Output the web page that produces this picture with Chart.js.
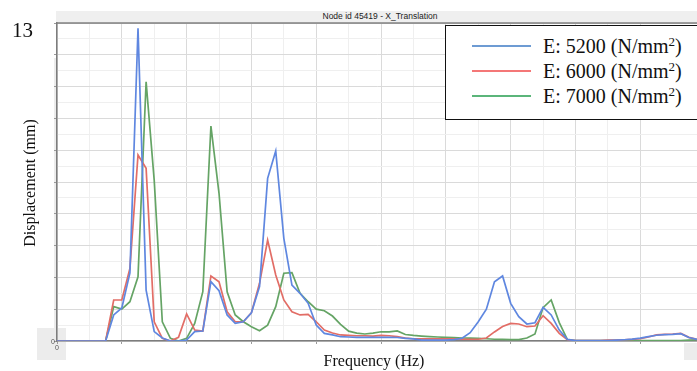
<!DOCTYPE html>
<html>
<head>
<meta charset="utf-8">
<script src="https://cdn.jsdelivr.net/npm/chart.js@4/dist/chart.umd.min.js"></script>
<style>
    body { margin: 0; background: #fff; overflow: hidden; }
    #wrap { position: relative; width: 697px; height: 371px; overflow: hidden; }
    #wrap canvas { position: absolute; left: 0; top: 0; z-index: 1; }
    .abs { position: absolute; white-space: nowrap; }
    .serif { font-family: "Liberation Serif", "Times New Roman", serif; color: #111; }
    .back { z-index: 0; background: #ececec; }
    .front { z-index: 2; }
    .tiny { font-family: "Liberation Sans", Arial, sans-serif; font-size: 7px; color: #555; line-height: 7px; }
    .leg-row { font-size: 20px; line-height: 20px; }
    .leg-row sup { font-size: 13px; vertical-align: 7px; line-height: 0; }
    .leg-line { height: 2px; width: 59px; }
</style>
</head>
<body>
<div id="wrap">
    <!-- grey label boxes behind the plot -->
    <div class="abs back" style="left:37px; top:328px; width:29px; height:32px;"></div>
    <div class="abs back" style="left:684px; top:343px; width:20px; height:17px;"></div>
    <div class="abs back" style="left:54px; top:58px; width:3px; height:270px;"></div>

    <canvas id="chart" width="697" height="371"></canvas>

    <div class="abs front" style="left:56px; top:11px; width:648px; height:11px; background:#efefef; text-align:center; font-family:'Liberation Sans', Arial, sans-serif; font-size:8.5px; line-height:11px; color:#222;">Node id 45419 - X_Translation</div>

    <div class="abs front serif" style="left:12px; top:20px; font-size:21px; line-height:21px;">13</div>
    <div class="abs front serif" style="left:30px; top:183px; font-size:16px; line-height:16px; transform: translate(-50%, -50%) rotate(-90deg);">Displacement (mm)</div>
    <div class="abs front serif" style="left:374px; top:353px; font-size:16px; line-height:16px; transform: translateX(-50%);">Frequency (Hz)</div>

    <div class="abs front tiny" style="left:51px; top:338px;">0</div>
    <div class="abs front tiny" style="left:55px; top:344px;">0</div>

    <div class="abs front" style="left:445px; top:25px; width:260px; height:93px; border:1px solid #111; background:#fff;"></div>
    <div id="legend"></div>
</div>

<script>
// sampled frequency points (plot units) and displacement for each modulus
const freq = [0, 1.5, 1.75, 2, 2.25, 2.5, 2.75, 3, 3.25, 3.5, 3.75, 4, 4.25, 4.5, 4.75, 5,
    5.25, 5.5, 5.75, 6, 6.25, 6.5, 6.75, 7, 7.25, 7.5, 7.75, 8, 8.25, 8.5, 8.75, 9,
    9.25, 9.5, 9.75, 10, 10.25, 10.5, 10.75, 11, 11.25, 11.5, 11.75, 12, 12.25, 12.5, 12.75, 13,
    13.25, 13.5, 13.75, 14, 14.25, 14.5, 14.75, 15, 15.25, 15.5, 15.75, 16, 16.25, 16.5, 16.75, 17,
    17.25, 17.5, 17.75, 18, 18.25, 18.5, 18.75, 19, 19.25, 19.5, 19.75];

const disp5200 = [0, 0, 1.64, 2.08, 4.28, 19.67, 3.2, 0.59, 0.19, 0, 0, 0.06, 0.59, 0.63, 3.73, 3.16,
    1.64, 1.11, 1.21, 1.78, 3.42, 10.23, 11.95, 6.46, 3.52, 3.0, 2.37, 1.0, 0.48, 0.38, 0.27, 0.25,
    0.23, 0.23, 0.23, 0.23, 0.23, 0.22, 0.17, 0.13, 0.06, 0.06, 0.06, 0.06, 0.09, 0.17, 0.52, 1.21,
    2.0, 3.73, 4.09, 2.37, 1.53, 1.07, 1.15, 2.12, 1.64, 0.69, 0.1, 0.02, 0.02, 0.02, 0.02, 0.02,
    0.05, 0.08, 0.12, 0.18, 0.27, 0.36, 0.4, 0.42, 0.46, 0.22, 0.1];

const disp6000 = [0, 0, 2.58, 2.58, 4.57, 11.7, 10.86, 1.21, 0.17, 0, 0.23, 1.7, 0.69, 0.63, 4.09, 3.73,
    1.84, 1.21, 1.21, 1.78, 3.63, 6.35, 4.15, 2.58, 1.84, 1.64, 1.68, 1.21, 0.69, 0.5, 0.38, 0.36,
    0.33, 0.33, 0.31, 0.35, 0.33, 0.28, 0.19, 0.14, 0.13, 0.13, 0.13, 0.13, 0.13, 0.11, 0.11, 0.11,
    0.19, 0.57, 0.91, 1.11, 1.07, 0.9, 0.94, 1.59, 1.11, 0.48, 0.08, 0.02, 0.02, 0.02, 0.03, 0.05,
    0.06, 0.08, 0.1, 0.15, 0.25, 0.38, 0.42, 0.44, 0.48, 0.23, 0.1];

const disp7000 = [0, 0, 2.16, 2.01, 2.47, 4.04, 16.3, 10.1, 1.21, 0.17, 0, 0.17, 1.11, 3.1, 13.52, 9.29,
    3.1, 1.64, 1.21, 0.9, 0.65, 1.0, 2.16, 4.26, 4.3, 3.0, 2.47, 2.0, 1.9, 1.57, 1.05, 0.62,
    0.5, 0.44, 0.5, 0.58, 0.58, 0.63, 0.41, 0.35, 0.31, 0.28, 0.25, 0.23, 0.21, 0.19, 0.18, 0.16,
    0.14, 0.11, 0.1, 0.09, 0.09, 0.19, 0.44, 2.1, 2.58, 1.16, 0.09, 0.02, 0.02, 0.02, 0.02, 0.02,
    0.02, 0.02, 0.02, 0.02, 0.02, 0.02, 0.02, 0.02, 0.03, 0.05, 0.08];

const seriesNames = ['E: 5200 (N/mm<sup>2</sup>)', 'E: 6000 (N/mm<sup>2</sup>)', 'E: 7000 (N/mm<sup>2</sup>)'];
const lineColors = ['#5f87e0', '#e26d66', '#65a465'];
const legendColors = ['#6d9bd3', '#f47777', '#5bb57a'];

const xMax = 19.75;
const yMax = 20;

function toPoints(values) {
    const pts = [];
    for (let i = 0; i < freq.length; i++) {
        pts.push({ x: freq[i], y: values[i] });
    }
    return pts;
}

// legend built by hand, the boxed one
let legendHtml = '';
for (let i = 0; i < seriesNames.length; i++) {
    const base = 53 + i * 25;
    legendHtml += `<div class="abs front leg-line" style="left:472px; top:${base - 8}px; background:${legendColors[i]};"></div>`;
    legendHtml += `<div class="abs front serif leg-row" style="left:543px; top:${base - 17}px;">${seriesNames[i]}</div>`;
}
document.getElementById('legend').innerHTML = legendHtml;

// top edge of the plot frame
const topFrame = {
    id: 'topFrame',
    afterDraw(chart) {
        const { ctx, chartArea } = chart;
        ctx.save();
        ctx.strokeStyle = '#7d7d7d';
        ctx.lineWidth = 1.5;
        ctx.beginPath();
        ctx.moveTo(chartArea.left, chartArea.top);
        ctx.lineTo(chartArea.right, chartArea.top);
        ctx.stroke();
        ctx.restore();
    }
};

const evenGrid = (ctx) => (ctx.tick && ctx.tick.value % 2 === 0) ? '#dadada' : '#efefef';
const evenTick = (ctx) => (ctx.tick && ctx.tick.value % 2 === 0) ? '#9a9a9a' : 'rgba(0,0,0,0)';

const data = [disp5200, disp6000, disp7000];
const chart = new Chart(document.getElementById('chart').getContext('2d'), {
    type: 'line',
    data: {
        datasets: data.map((d, i) => ({
            data: toPoints(d),
            borderColor: lineColors[i],
            backgroundColor: lineColors[i],
            borderWidth: 1.7,
            pointRadius: 0,
            tension: 0,
            fill: false
        }))
    },
    options: {
        responsive: false,
        animation: false,
        layout: {
            padding: { left: 54, top: 23, right: 0, bottom: 27 }
        },
        plugins: {
            legend: { display: false },
            tooltip: { enabled: false }
        },
        scales: {
            x: {
                type: 'linear',
                min: 0,
                max: xMax,
                afterBuildTicks: (axis) => {
                    axis.ticks = axis.ticks.filter(t => Number.isInteger(t.value));
                },
                ticks: { display: false, stepSize: 1 },
                grid: {
                    color: evenGrid,
                    tickColor: evenTick,
                    drawTicks: true,
                    tickLength: 3
                },
                border: { color: '#7d7d7d', width: 1.5 }
            },
            y: {
                min: 0,
                max: yMax,
                ticks: { display: false, stepSize: 1 },
                grid: {
                    color: evenGrid,
                    tickColor: evenTick,
                    drawTicks: true,
                    tickLength: 3
                },
                border: { color: '#7d7d7d', width: 1.5 }
            }
        }
    },
    plugins: [topFrame]
});
</script>
</body>
</html>
